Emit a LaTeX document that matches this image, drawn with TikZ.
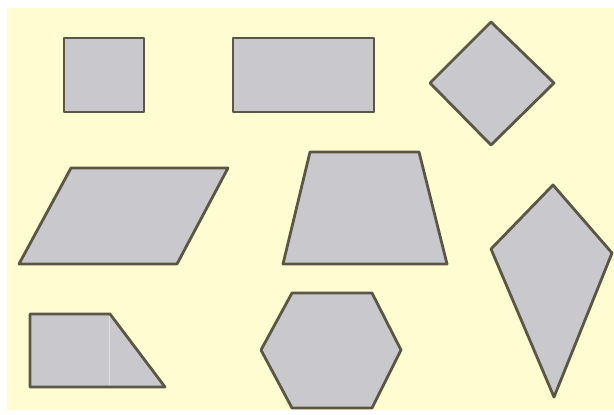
\documentclass[tikz,border=0pt]{standalone}
\usepackage{xcolor}
\usepackage{tikz}
\definecolor{PaleYellow}{HTML}{FFFCD2}
\definecolor{ShapeGrey}{HTML}{C9C9CD}
\definecolor{EdgeGrey}{HTML}{5B5645}
\begin{document}
\begin{tikzpicture}[x=0.5pt,y=-0.5pt,
    figshape/.style={draw=EdgeGrey,fill=ShapeGrey,line width=1.4pt,line join=round}]
  \useasboundingbox (0,0) rectangle (614,415);
  \fill[white] (0,0) rectangle (614,415);
  \fill[PaleYellow] (7,8) rectangle (614,410);
  % top row
  \draw[figshape] (64,38) rectangle (144,112);
  \draw[figshape] (233,38) rectangle (374,112);
  \draw[figshape] (491,22) -- (554,83) -- (491,145) -- (430,83) -- cycle;
  % middle row
  \draw[figshape] (71,168) -- (228,168) -- (177,264) -- (19,264) -- cycle;
  \draw[figshape] (310,152) -- (419,152) -- (447,264) -- (283,264) -- cycle;
  \draw[figshape] (553,185) -- (612,253) -- (554,397) -- (491,249) -- cycle;
  % bottom row
  \draw[figshape] (30,314) -- (110,314) -- (165,387) -- (30,387) -- cycle;
  \draw[white!45!ShapeGrey,line width=0.5pt] (109,316) -- (109,385);
  \draw[figshape] (292,293) -- (372,293) -- (401,350) -- (372,408) -- (292,408) -- (261,350) -- cycle;
\end{tikzpicture}
\end{document}
